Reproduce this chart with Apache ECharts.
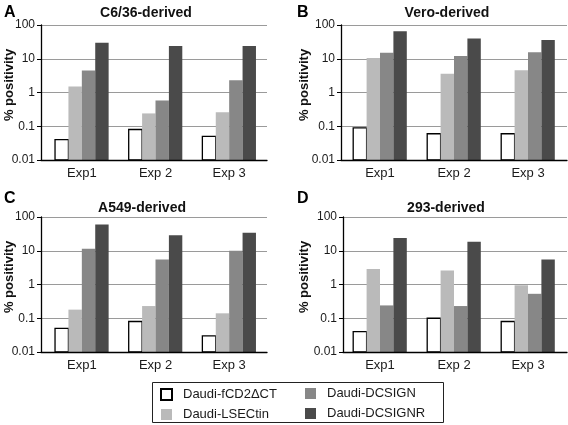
<!DOCTYPE html>
<html>
<head>
<meta charset="utf-8">
<script src="https://cdn.jsdelivr.net/npm/echarts@6/dist/echarts.min.js"></script>
<style>
html,body{margin:0;padding:0;background:#fff;}
#chart{width:568px;height:425px;}
</style>
</head>
<body>
<div id="chart"></div>
<script>
// ---- data ----
const categories = ['Exp1', 'Exp 2', 'Exp 3'];
const seriesNames = ['Daudi-fCD2\u0394CT', 'Daudi-LSECtin', 'Daudi-DCSIGN', 'Daudi-DCSIGNR'];
const panelTitles = ['C6/36-derived', 'Vero-derived', 'A549-derived', '293-derived'];
const panelLetters = ['A', 'B', 'C', 'D'];
const yAxisTitle = '% positivity';
const tickLabels = ['0.01', '0.1', '1', '10', '100'];

// Panel A: C6/36-derived
const A_fCD2 = [0.04, 0.08, 0.05];
const A_LSECtin = [1.5, 0.24, 0.26];
const A_DCSIGN = [4.5, 0.58, 2.3];
const A_DCSIGNR = [30, 24, 24];
// Panel B: Vero-derived
const B_fCD2 = [0.09, 0.06, 0.06];
const B_LSECtin = [10.5, 3.6, 4.6];
const B_DCSIGN = [15, 12, 15.5];
const B_DCSIGNR = [65, 40, 36];
// Panel C: A549-derived
const C_fCD2 = [0.05, 0.08, 0.03];
const C_LSECtin = [0.18, 0.23, 0.14];
const C_DCSIGN = [11.5, 5.5, 10];
const C_DCSIGNR = [60, 29, 34];
// Panel D: 293-derived
const D_fCD2 = [0.04, 0.10, 0.08];
const D_LSECtin = [2.9, 2.6, 0.95];
const D_DCSIGN = [0.24, 0.23, 0.53];
const D_DCSIGNR = [24, 18.5, 5.5];

const panelData = [
  [A_fCD2, A_LSECtin, A_DCSIGN, A_DCSIGNR],
  [B_fCD2, B_LSECtin, B_DCSIGN, B_DCSIGNR],
  [C_fCD2, C_LSECtin, C_DCSIGN, C_DCSIGNR],
  [D_fCD2, D_LSECtin, D_DCSIGN, D_DCSIGNR]
];

// ---- layout / style ----
const FONT = 'Liberation Sans, Arial, Helvetica, sans-serif';
const AXIS_MIN = 0.01, AXIS_MAX = 100;
const BAR_W = 13.4;
const seriesStyles = [
  { color: '#ffffff', borderColor: '#000000', borderWidth: 1.3 },
  { color: '#bababa', borderWidth: 0 },
  { color: '#878787', borderWidth: 0 },
  { color: '#4a4a4a', borderWidth: 0 }
];
const layout = [
  { outerLeft: 41, outerWidth: 226, innerLeft: 45, innerWidth: 221, top: 25, height: 135,
    title: [146, 13], letter: [4, 13], yname: [9, 85] },
  { outerLeft: 341, outerWidth: 226, innerLeft: 343, innerWidth: 222, top: 25, height: 135,
    title: [447, 13], letter: [297, 13], yname: [304, 85] },
  { outerLeft: 41, outerWidth: 226, innerLeft: 45, innerWidth: 221, top: 217, height: 135,
    title: [142, 208], letter: [4, 199], yname: [9, 277] },
  { outerLeft: 343, outerWidth: 224, innerLeft: 343, innerWidth: 222, top: 217, height: 135,
    title: [446, 208], letter: [297, 199], yname: [304, 277] }
];

function fmtTick(v) {
  const e = Math.round(Math.log10(v)) + 2;
  return tickLabels[e] !== undefined ? tickLabels[e] : String(v);
}

// bar drawn from the axis minimum (log axis) through the library's coordinate system
function makeRenderItem(seriesIdx) {
  return function (params, api) {
    const ci = api.value(0);
    const v = api.value(1);
    const topPt = api.coord([ci, v]);
    const basePt = api.coord([ci, AXIS_MIN]);
    const x = topPt[0] + (seriesIdx - 2) * BAR_W;
    return {
      type: 'rect',
      shape: { x: x, y: topPt[1], width: BAR_W, height: basePt[1] - topPt[1] },
      style: api.style()
    };
  };
}

const grid = [], xAxis = [], yAxis = [], series = [], graphic = [];
layout.forEach((L, p) => {
  const gOuter = grid.length;
  grid.push({ left: L.outerLeft, top: L.top, width: L.outerWidth, height: L.height, containLabel: false });
  const gInner = grid.length;
  grid.push({ left: L.innerLeft, top: L.top, width: L.innerWidth, height: L.height, containLabel: false });

  // outer axes: y ticks, labels, grid lines, bottom axis line
  xAxis.push({
    type: 'category', gridIndex: gOuter, data: categories,
    axisLine: { show: true, lineStyle: { color: '#000', width: 1.3 } },
    axisTick: { show: false }, axisLabel: { show: false }, splitLine: { show: false }, z: 5
  });
  yAxis.push({
    type: 'log', logBase: 10, gridIndex: gOuter, min: AXIS_MIN, max: AXIS_MAX,
    axisLine: { show: true, lineStyle: { color: '#000', width: 1.3 } },
    axisTick: { show: true, length: 4, inside: false, lineStyle: { color: '#000', width: 1 } },
    axisLabel: { show: true, margin: 6, color: '#1a1a1a', fontSize: 12, fontFamily: FONT, formatter: fmtTick },
    splitLine: { show: true, lineStyle: { color: '#9a9a9a', width: 1 } }
  });
  // inner axes: bars and category labels
  xAxis.push({
    type: 'category', gridIndex: gInner, data: categories,
    axisLine: { show: false }, axisTick: { show: false },
    axisLabel: { show: true, margin: 7, color: '#1a1a1a', fontSize: 13, fontFamily: FONT }
  });
  yAxis.push({
    type: 'log', logBase: 10, gridIndex: gInner, min: AXIS_MIN, max: AXIS_MAX,
    show: false, splitLine: { show: false }
  });
  const xi = xAxis.length - 1, yi = yAxis.length - 1;
  panelData[p].forEach((vals, s) => {
    series.push({
      type: 'custom', name: seriesNames[s], xAxisIndex: xi, yAxisIndex: yi,
      renderItem: makeRenderItem(s),
      encode: { x: 0, y: 1 },
      data: vals.map((v, i) => [i, v]),
      z: 3, clip: false,
      itemStyle: seriesStyles[s], emphasis: { disabled: true }
    });
  });

  graphic.push({
    type: 'text', x: L.title[0], y: L.title[1],
    style: { text: panelTitles[p], font: 'bold 14px ' + FONT, fill: '#111',
      textAlign: 'center', textVerticalAlign: 'middle', align: 'center', verticalAlign: 'middle' }
  });
  graphic.push({
    type: 'text', x: L.letter[0], y: L.letter[1],
    style: { text: panelLetters[p], font: 'bold 16px ' + FONT, fill: '#000',
      textAlign: 'left', textVerticalAlign: 'middle', align: 'left', verticalAlign: 'middle' }
  });
  graphic.push({
    type: 'text', x: L.yname[0], y: L.yname[1], rotation: Math.PI / 2,
    style: { text: yAxisTitle, font: 'bold 13px ' + FONT, fill: '#111',
      textAlign: 'center', textVerticalAlign: 'middle', align: 'center', verticalAlign: 'middle' }
  });
});

// legend frame
graphic.push({
  type: 'rect', shape: { x: 152.5, y: 382.5, width: 291, height: 40 },
  style: { fill: '#fff', stroke: '#222', lineWidth: 1 }, z: -1
});

const legendCommon = {
  orient: 'vertical', itemWidth: 11, itemHeight: 11, itemGap: 7, icon: 'rect',
  selectedMode: false, padding: 0,
  textStyle: { fontSize: 13, fontFamily: FONT, color: '#1a1a1a', padding: [0, 0, 0, 6] }
};

const option = {
  backgroundColor: '#fff',
  animation: false,
  grid, xAxis, yAxis, series, graphic,
  legend: [
    Object.assign({}, legendCommon, { left: 160, top: 388, data: [seriesNames[0], seriesNames[1]] }),
    Object.assign({}, legendCommon, { left: 305, top: 387, data: [seriesNames[2], seriesNames[3]] })
  ]
};

const chart = echarts.init(document.getElementById('chart'), null, { renderer: 'canvas' });
chart.setOption(option);
</script>
</body>
</html>
